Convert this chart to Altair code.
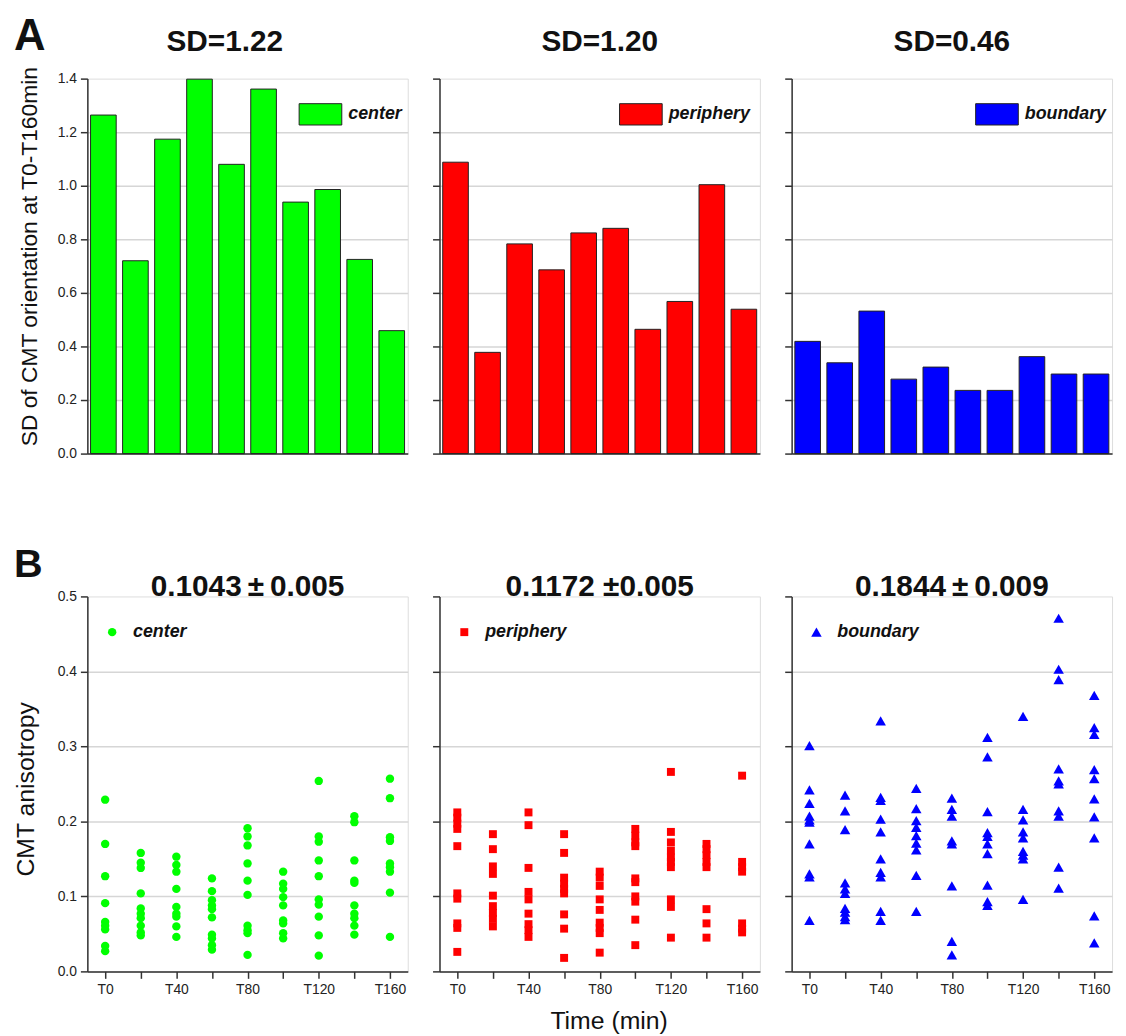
import altair as alt
import pandas as pd

FONT = "Liberation Sans"

# ---------------- Panel A data (SD of CMT orientation, 10 bars) ----------------
bar_index = [1, 2, 3, 4, 5, 6, 7, 8, 9, 10]
sd_center = [1.264, 0.720, 1.174, 1.398, 1.080, 1.361, 0.939, 0.986, 0.725, 0.459]
sd_periphery = [1.088, 0.378, 0.783, 0.686, 0.824, 0.841, 0.464, 0.568, 1.004, 0.539]
sd_boundary = [0.419, 0.339, 0.532, 0.278, 0.323, 0.236, 0.236, 0.362, 0.297, 0.297]

# ---------------- Panel B data (CMT anisotropy per time point) ----------------
times = [0, 20, 40, 60, 80, 100, 120, 140, 160]

aniso_center = [
    [0.229, 0.170, 0.127, 0.091, 0.066, 0.061, 0.056, 0.034, 0.027],
    [0.158, 0.145, 0.138, 0.104, 0.084, 0.077, 0.071, 0.061, 0.052, 0.048],
    [0.153, 0.142, 0.133, 0.110, 0.086, 0.077, 0.073, 0.060, 0.046],
    [0.124, 0.107, 0.095, 0.088, 0.083, 0.072, 0.049, 0.044, 0.035, 0.029],
    [0.191, 0.180, 0.168, 0.144, 0.121, 0.102, 0.061, 0.055, 0.051, 0.022],
    [0.133, 0.117, 0.110, 0.099, 0.088, 0.068, 0.064, 0.051, 0.044],
    [0.254, 0.180, 0.173, 0.148, 0.127, 0.096, 0.089, 0.073, 0.048, 0.021],
    [0.207, 0.199, 0.148, 0.121, 0.118, 0.088, 0.077, 0.071, 0.061, 0.049],
    [0.257, 0.231, 0.179, 0.174, 0.144, 0.139, 0.133, 0.105, 0.046],
]
aniso_periphery = [
    [0.212, 0.205, 0.197, 0.190, 0.167, 0.104, 0.097, 0.064, 0.058, 0.026],
    [0.183, 0.163, 0.140, 0.130, 0.101, 0.087, 0.078, 0.070, 0.060],
    [0.212, 0.195, 0.138, 0.106, 0.096, 0.077, 0.063, 0.055, 0.046],
    [0.183, 0.158, 0.125, 0.117, 0.110, 0.104, 0.076, 0.057, 0.018],
    [0.133, 0.125, 0.114, 0.096, 0.082, 0.065, 0.058, 0.051, 0.025],
    [0.190, 0.181, 0.172, 0.167, 0.124, 0.119, 0.100, 0.093, 0.069, 0.035],
    [0.266, 0.186, 0.172, 0.161, 0.152, 0.146, 0.139, 0.096, 0.086, 0.045],
    [0.170, 0.163, 0.155, 0.146, 0.139, 0.083, 0.064, 0.045],
    [0.261, 0.146, 0.139, 0.133, 0.064, 0.057, 0.052],
]
aniso_boundary = [
    [0.301, 0.242, 0.224, 0.207, 0.202, 0.199, 0.170, 0.130, 0.126, 0.068],
    [0.235, 0.214, 0.189, 0.118, 0.110, 0.104, 0.084, 0.079, 0.073, 0.069],
    [0.334, 0.232, 0.228, 0.203, 0.186, 0.150, 0.132, 0.126, 0.080, 0.068],
    [0.244, 0.217, 0.201, 0.192, 0.181, 0.171, 0.162, 0.128, 0.080],
    [0.231, 0.216, 0.207, 0.174, 0.170, 0.114, 0.040, 0.022],
    [0.312, 0.286, 0.213, 0.185, 0.180, 0.170, 0.157, 0.115, 0.093, 0.088],
    [0.340, 0.216, 0.202, 0.186, 0.178, 0.160, 0.155, 0.150, 0.096],
    [0.471, 0.403, 0.389, 0.270, 0.254, 0.250, 0.214, 0.207, 0.139, 0.111],
    [0.368, 0.325, 0.316, 0.269, 0.257, 0.230, 0.206, 0.178, 0.074, 0.038],
]

regions = ["center", "periphery", "boundary"]
colors = ["#00ff00", "#ff0000", "#0000ff"]
shapes = ["circle", "square", "triangle-up"]
sizes = [72, 64, 112]
titles_a = ["SD=1.22", "SD=1.20", "SD=0.46"]
titles_b = ["0.1043\u2009\u00b1\u20090.005", "0.1172 \u00b10.005", "0.1844\u2009\u00b1\u20090.009"]

W, H = 323, 378
AX = dict(
    domainColor="#333333", domainWidth=1.5, tickColor="#333333", tickWidth=1.5,
    tickSize=7, labelFont=FONT, labelFontSize=14, labelColor="#222222",
    titleFont=FONT, titleFontWeight="normal", titleColor="#111111",
)
GRID = dict(grid=True, gridColor="#d6d6d6", gridWidth=1.5)


def text_layer(txt, x, y, size, align="left"):
    return alt.Chart(pd.DataFrame({"lab": [txt]})).mark_text(
        align=align, baseline="alphabetic", fontSize=size, fontWeight="bold",
        font=FONT, color="#111111"
    ).encode(text="lab:N", x=alt.value(x), y=alt.value(y))


def bar_panel(i, values, legend_x):
    name = regions[i]
    df = pd.DataFrame({"bar": bar_index, "sd": values, "region": name})
    first = i == 0
    ykw = dict(
        values=[0, 0.2, 0.4, 0.6, 0.8, 1.0, 1.2, 1.4], format=".1f",
        labels=first, title="SD of CMT orientation at T0-T160min" if first else None,
        titleFontSize=23, titlePadding=16, labelPadding=4,
        gridOpacity={"condition": {"test": "datum.value > 1.39", "value": 0}, "value": 1},
        **GRID, **AX,
    )
    if first:
        ykw["titleY"] = H / 2 - 10
    bars = alt.Chart(df).mark_bar(stroke="#222222", strokeWidth=1).encode(
        x=alt.X("bar:O", sort=bar_index,
                scale=alt.Scale(paddingInner=0.2, paddingOuter=0.1),
                axis=alt.Axis(labels=False, ticks=False, title=None, grid=False, **AX)),
        y=alt.Y("sd:Q", scale=alt.Scale(domain=[0, 1.4], nice=False), axis=alt.Axis(**ykw)),
        color=alt.Color("region:N", scale=alt.Scale(domain=[name], range=[colors[i]]),
                        legend=alt.Legend(
                            title=None, orient="none", legendX=legend_x, legendY=14,
                            padding=0, symbolType="M-1,-0.5H1V0.5H-1Z", symbolSize=1849,
                            symbolStrokeColor="#222222", symbolStrokeWidth=1,
                            labelFont=FONT, labelFontSize=18, labelFontStyle="italic",
                            labelFontWeight="bold", labelColor="#111111", labelOffset=6)),
    )
    layers = [bars, text_layer(titles_a[i], W / 2 + (-23 if first else 0), -28, 30, "center")]
    if first:
        layers.append(text_layer("A", -74, -29, 44))
    return alt.layer(*layers).properties(width=W, height=H)


def scatter_panel(i, data):
    name = regions[i]
    rows = []
    for t, vals in zip(times, data):
        for v in vals:
            rows.append({"time": t, "aniso": v, "region": name})
    df = pd.DataFrame(rows)
    first = i == 0
    xaxis_kw = dict(
        values=times,
        labelExpr="datum.value % 40 == 0 ? 'T' + datum.value : ''",
        labelOverlap=False, labelPadding=4, grid=False,
        title="Time (min)" if i == 1 else None, titleFontSize=25, titlePadding=13,
        **AX,
    )
    if i == 1:
        xaxis_kw["titleX"] = W / 2 + 9
    ykw = dict(
        values=[0, 0.1, 0.2, 0.3, 0.4, 0.5], format=".1f",
        labels=first, title="CMT anisotropy" if first else None,
        titleFontSize=25, titlePadding=19, labelPadding=4,
        gridOpacity={"condition": {"test": "datum.value > 0.49", "value": 0}, "value": 1},
        **GRID, **AX,
    )
    if first:
        ykw["titleY"] = H / 2 + 5
    pts = alt.Chart(df).mark_point(filled=True, opacity=1, size=sizes[i]).encode(
        x=alt.X("time:Q", scale=alt.Scale(domain=[-10, 170], nice=False, zero=False),
                axis=alt.Axis(**xaxis_kw)),
        y=alt.Y("aniso:Q", scale=alt.Scale(domain=[0, 0.5], nice=False), axis=alt.Axis(**ykw)),
        color=alt.Color("region:N", scale=alt.Scale(domain=[name], range=[colors[i]]),
                        legend=alt.Legend(
                            title=None, orient="none", legendX=16, legendY=27, padding=0,
                            symbolSize=sizes[i], symbolOpacity=1, symbolStrokeWidth=0,
                            labelFont=FONT, labelFontSize=18, labelFontStyle="italic",
                            labelFontWeight="bold", labelColor="#111111", labelOffset=12)),
        shape=alt.Shape("region:N", scale=alt.Scale(domain=[name], range=[shapes[i]])),
    )
    layers = [pts, text_layer(titles_b[i], W / 2, 0, 30, "center")]
    if first:
        layers.append(text_layer("B", -74, -20, 40))
    return alt.layer(*layers).properties(width=W, height=H)


legend_xs = [213, 181, 185]
panels = [bar_panel(i, v, legend_xs[i])
          for i, v in enumerate([sd_center, sd_periphery, sd_boundary])]
panels += [scatter_panel(i, v)
           for i, v in enumerate([aniso_center, aniso_periphery, aniso_boundary])]

chart = alt.concat(
    *panels, columns=3, spacing={"row": 144, "column": 32}, bounds="flush"
).resolve_scale(
    color="independent", shape="independent", x="independent", y="independent"
).configure_view(stroke=None).configure(
    background="white", padding={"left": 5, "top": 2, "right": 5, "bottom": 5}
)

chart.save("out.html", embed_options={"renderer": "svg", "actions": False})
